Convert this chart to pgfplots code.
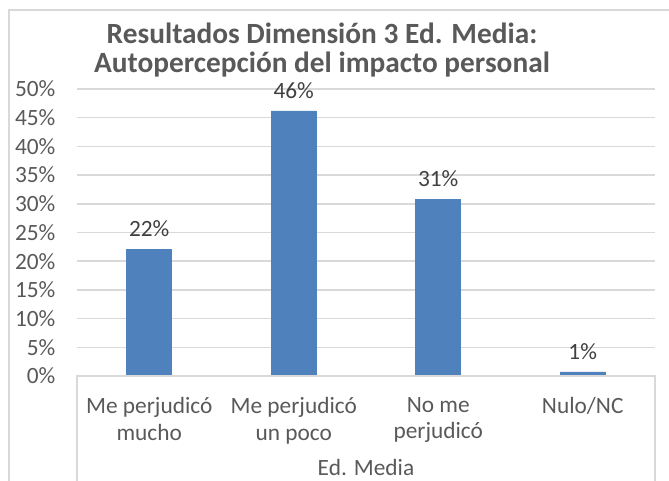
\documentclass[border=0pt]{standalone}
\usepackage{pgfplots}
\pgfplotsset{compat=1.18}
\usepackage{fontspec}
\setmainfont{Carlito}
\definecolor{txt}{HTML}{595959}
\definecolor{lbl}{HTML}{404040}
\definecolor{barblue}{HTML}{4F81BD}
\definecolor{gridc}{HTML}{D9D9D9}
\begin{document}
\begin{tikzpicture}[x=0.75pt,y=0.75pt]
\useasboundingbox (0,0) rectangle (669,480);
% chart frame (left and top)
\draw[gridc, line width=1.5pt] (9,-5) -- (9,470) -- (680,470);
\begin{axis}[
  at={(57.75pt,78pt)}, anchor=south west,
  scale only axis, width=433.5pt, height=215.25pt,
  xmin=-0.5, xmax=3.5, ymin=0, ymax=50,
  ytick={0,5,...,50},
  yticklabel={\pgfmathprintnumber{\tick}\%},
  /pgf/number format/assume math mode=true,
  ymajorgrids, grid style={gridc, line width=1.1pt},
  axis line style={draw=none},
  major tick length=0pt,
  xtick={0,1,2,3},
  xticklabels={{Me perjudicó\\mucho},{Me perjudicó\\un poco},{No me\\perjudicó},{Nulo/NC}},
  xticklabel style={align=center, anchor=north, inner sep=0pt, yshift=-16pt, font=\fontsize{17.5}{19.8}\selectfont, text=txt},
  yticklabel style={anchor=east, inner sep=0pt, xshift=-16pt, font=\fontsize{17.5}{21}\selectfont, text=txt},
  ybar, bar width=33.75pt,
  point meta=explicit,
  nodes near coords={\pgfmathprintnumber{\pgfplotspointmeta}\%},
  nodes near coords style={font=\fontsize{17.5}{21}\selectfont, text=lbl, anchor=south, yshift=5.5pt},
  clip=false,
]
\addplot[fill=barblue, draw=barblue] coordinates {(0,22.1) [22] (1,46.2) [46] (2,30.8) [31] (3,0.7) [1]};
\end{axis}
% category box
\draw[gridc, line width=1.1pt] (77,-5) -- (77,104) -- (655,104) -- (655,-5);
\node[anchor=base, inner sep=0pt, text=txt, font=\fontsize{17.5}{21}\selectfont] at (366,5) {Ed. Media};
\node[anchor=base, inner sep=0pt, text=txt, font=\fontsize{22}{26}\bfseries] at (322,437) {Resultados Dimensión 3 Ed. Media:};
\node[anchor=base, inner sep=0pt, text=txt, font=\fontsize{22}{26}\bfseries] at (322,408) {Autopercepción del impacto personal};
\end{tikzpicture}
\end{document}
